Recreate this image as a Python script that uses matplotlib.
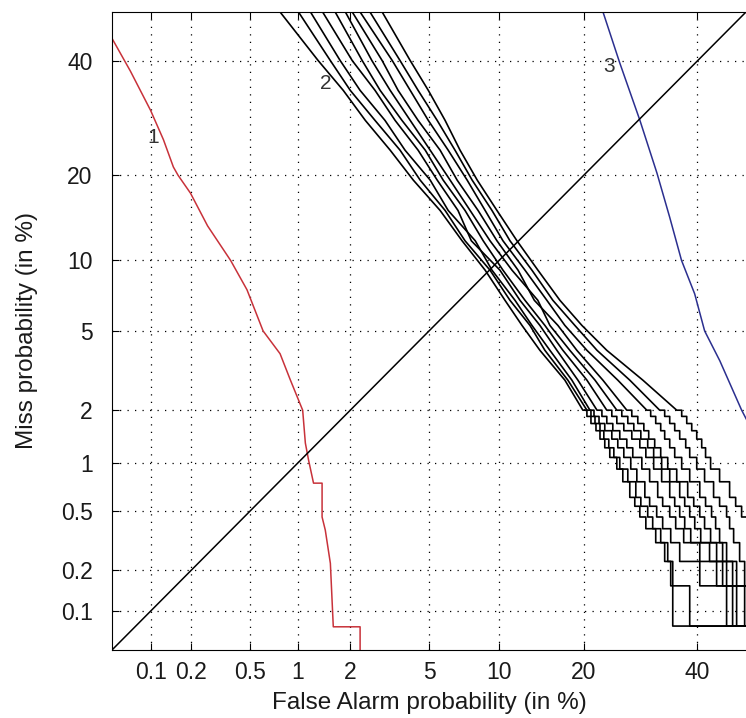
import math
import numpy as np
import matplotlib
matplotlib.use("Agg")
import matplotlib.pyplot as plt
from matplotlib.ticker import FixedLocator, NullLocator

plt.rcParams['font.family'] = ['Liberation Sans', 'DejaVu Sans']

# -----------------------------
# data (percent)
# -----------------------------
tick_vals = [0.1, 0.2, 0.5, 1, 2, 5, 10, 20, 40]
tick_labels = ["0.1", "0.2", "0.5", "1", "2", "5", "10", "20", "40"]

# curve 1 (red)
fa_red = [0.05, 0.07, 0.1, 0.125, 0.148, 0.16, 0.197, 0.26, 0.374, 0.48, 0.61,
          0.78, 0.90, 1.07, 1.11, 1.16, 1.24, 1.39, 1.39, 1.45, 1.55, 1.61, 2.26, 2.26]
miss_red = [44.6, 38.0, 30.6, 25.5, 21.2, 20.0, 17.5, 13.5, 10.0, 7.6, 5.0,
            3.9, 2.9, 2.0, 1.31, 1.04, 0.755, 0.755, 0.46, 0.377, 0.223, 0.076, 0.076, 0.04]

# curve 3 (blue)
fa_blue = [22.9, 25.6, 29.1, 32.2, 34.6, 36.9, 39.5, 41.5, 44.6, 49.1, 51.0]
miss_blue = [50.0, 39.7, 28.8, 20.3, 14.5, 10.0, 7.3, 5.0, 3.6, 2.0, 1.6]

# curves 2 (black bundle): smooth part on shared miss levels, then staircase tail
miss_smooth = [50.0, 40.1, 34.3, 28.8, 23.8, 19.3, 15.3, 11.9, 9.15, 6.85, 5.3, 4.05, 2.88, 2.0]
miss_tail = [1.85, 1.69, 1.54, 1.38, 1.23, 1.08, 0.92, 0.77, 0.615, 0.54, 0.46,
             0.385, 0.31, 0.23, 0.154, 0.077]

fa_smooth = [
    [0.78, 1.32, 1.83, 2.41, 3.24, 4.21, 5.62, 7.03, 8.79, 10.55, 12.25, 14.24, 17.36, 19.86],
    [1.01, 1.55, 2.00, 2.71, 3.63, 4.54, 5.92, 7.24, 9.20, 11.03, 13.11, 14.83, 17.76, 20.45],
    [1.19, 1.76, 2.26, 3.05, 3.84, 5.06, 6.11, 8.00, 9.37, 11.53, 13.33, 15.44, 18.31, 20.90],
    [1.40, 2.05, 2.71, 3.43, 4.44, 5.45, 6.75, 7.70, 10.08, 12.04, 14.24, 16.32, 19.15, 21.97],
    [1.65, 2.32, 2.88, 3.71, 4.80, 5.80, 7.24, 8.63, 10.36, 12.57, 14.83, 17.10, 20.45, 23.50],
    [1.88, 2.61, 3.24, 4.07, 5.06, 6.23, 7.61, 9.20, 11.23, 14.00, 15.44, 18.03, 21.66, 25.13],
    [2.05, 2.95, 3.55, 4.44, 5.62, 6.69, 8.22, 9.81, 11.84, 13.60, 16.45, 19.00, 22.88, 26.81],
    [2.26, 3.32, 4.07, 4.96, 6.11, 7.39, 8.79, 10.36, 12.57, 15.07, 17.36, 20.45, 25.29, 30.33],
    [2.55, 3.63, 4.44, 5.45, 6.55, 7.76, 9.37, 11.03, 13.33, 15.81, 18.72, 21.97, 27.32, 32.71],
    [2.95, 4.07, 4.96, 5.92, 6.89, 8.15, 9.81, 11.73, 14.01, 16.71, 19.72, 23.50, 29.62, 35.96],
]
fa_tail = [
    [20.45, 21.05, 21.81, 22.43, 23.18, 23.98, 25.13, 26.13, 27.32, 28.19, 29.08, 30.16, 31.97, 33.65, 34.80, 35.19],
    [21.05, 21.66, 22.43, 23.03, 23.82, 24.64, 25.62, 26.98, 28.37, 29.26, 30.50, 31.41, 32.90, 34.23, 35.19, 38.51],
    [21.51, 22.28, 23.18, 24.31, 25.29, 26.30, 27.49, 28.55, 29.98, 30.85, 32.15, 33.27, 34.80, 36.54, 40.52, 45.99],
    [22.73, 23.50, 24.47, 25.62, 26.81, 27.84, 29.44, 30.85, 32.34, 33.27, 34.61, 35.76, 37.32, 40.52, 43.94, 47.23],
    [24.31, 25.13, 26.30, 27.67, 29.08, 30.16, 31.59, 33.08, 34.61, 35.57, 36.54, 37.52, 38.71, 42.50, 45.17, 48.06],
    [25.96, 26.98, 28.02, 29.26, 30.50, 31.59, 33.08, 34.61, 36.54, 37.52, 38.51, 39.51, 40.71, 43.94, 45.99, 49.72],
    [27.67, 28.72, 29.80, 30.68, 31.78, 32.90, 34.23, 35.96, 38.11, 39.31, 40.52, 41.49, 42.71, 45.17, 47.23, 60.0],
    [31.04, 31.97, 32.90, 33.65, 34.61, 35.57, 36.93, 38.51, 40.52, 41.69, 42.91, 43.74, 44.55, 45.99, 48.06, 60.0],
    [33.65, 34.61, 35.57, 36.54, 37.72, 38.51, 39.91, 41.49, 43.32, 44.55, 45.99, 46.61, 47.44, 48.68, 49.72, 60.0],
    [36.93, 37.92, 38.91, 39.91, 40.91, 41.69, 42.71, 44.55, 46.61, 47.86, 49.09, 60.0, 60.0, 60.0, 60.0, 60.0],
]

diag = [0.05, 50.0]

# -----------------------------
# probit (normal deviate) scale
# -----------------------------
A = [-39.69683028665376, 220.9460984245205, -275.9285104469687,
     138.3577518672690, -30.66479806614716, 2.506628277459239]
B = [-54.47609879822406, 161.5858368580409, -155.6989798598866,
     66.80131188771972, -13.28068155288572]
C = [-0.007784894002430293, -0.3223964580411365, -2.400758277161838,
     -2.549671348912163, 4.374664141464968, 2.938163982698783]
D = [0.007784695709041462, 0.3224671290700398, 2.445134137142996,
     3.754408661907416]


def probit(pct):
    p = np.clip(np.asarray(pct, dtype=float) / 100.0, 1e-12, 1 - 1e-12)
    q = p - 0.5
    r = q * q
    mid = (((((A[0]*r + A[1])*r + A[2])*r + A[3])*r + A[4])*r + A[5])*q / \
          (((((B[0]*r + B[1])*r + B[2])*r + B[3])*r + B[4])*r + 1)
    t = np.sqrt(-2 * np.log(np.minimum(p, 1 - p)))
    tail = (((((C[0]*t + C[1])*t + C[2])*t + C[3])*t + C[4])*t + C[5]) / \
           ((((D[0]*t + D[1])*t + D[2])*t + D[3])*t + 1)
    tail = np.where(p < 0.5, tail, -tail)
    return np.where((p > 0.02425) & (p < 0.97575), mid, tail)


_erf = np.vectorize(math.erf, otypes=[float])


def inv_probit(z):
    z = np.asarray(z, dtype=float)
    return 50.0 * (1.0 + _erf(z / math.sqrt(2)))


def det_path(fs, ft):
    xs = list(fs)
    ys = list(miss_smooth)
    prev = miss_smooth[-1]
    for f, m in zip(ft, miss_tail):
        xs += [f, f]
        ys += [prev, m]
        prev = m
    xs.append(60.0)
    ys.append(prev)
    return xs, ys


# -----------------------------
# plot
# -----------------------------
txt = '#1a1a1a'
fig = plt.figure(figsize=(7.46, 7.18), dpi=100)
ax = fig.add_axes([0.1501, 0.0947, 0.8499, 0.8886])
ax.set_xscale('function', functions=(probit, inv_probit))
ax.set_yscale('function', functions=(probit, inv_probit))
ax.set_xlim(0.05, 50)
ax.set_ylim(0.05, 50)

for fs, ft in zip(fa_smooth, fa_tail):
    xs, ys = det_path(fs, ft)
    ax.plot(xs, ys, color='black', lw=1.2)

ax.plot(fa_red, miss_red, color='#c8323a', lw=1.1)
ax.plot(fa_blue, miss_blue, color='#2b2f8f', lw=1.1)
ax.plot(diag, diag, color='black', lw=1.1)

ax.text(0.104, 25.9, "1", fontsize=15, ha='center', va='center', color='#333333')
ax.text(1.45, 35.6, "2", fontsize=15, ha='center', va='center', color='#333333')
ax.text(23.8, 38.9, "3", fontsize=15, ha='center', va='center', color='#333333')

ax.xaxis.set_major_locator(FixedLocator(tick_vals))
ax.yaxis.set_major_locator(FixedLocator(tick_vals))
ax.xaxis.set_minor_locator(NullLocator())
ax.yaxis.set_minor_locator(NullLocator())
ax.set_xticklabels(tick_labels)
ax.set_yticklabels(tick_labels)
ax.tick_params(direction='in', length=5, top=True, right=False,
               labelsize=16.5, labelcolor=txt)
ax.tick_params(axis='y', pad=14)
ax.tick_params(axis='x', pad=8)
ax.spines['right'].set_visible(False)

ax.grid(True, color='black', linestyle=(0, (1, 5)), linewidth=0.9)

ax.set_xlabel("False Alarm probability (in %)", fontsize=17.5, labelpad=6, color=txt)
ax.set_ylabel("Miss probability (in %)", fontsize=17.5, labelpad=16, color=txt)

fig.savefig("out.png", dpi=100)
